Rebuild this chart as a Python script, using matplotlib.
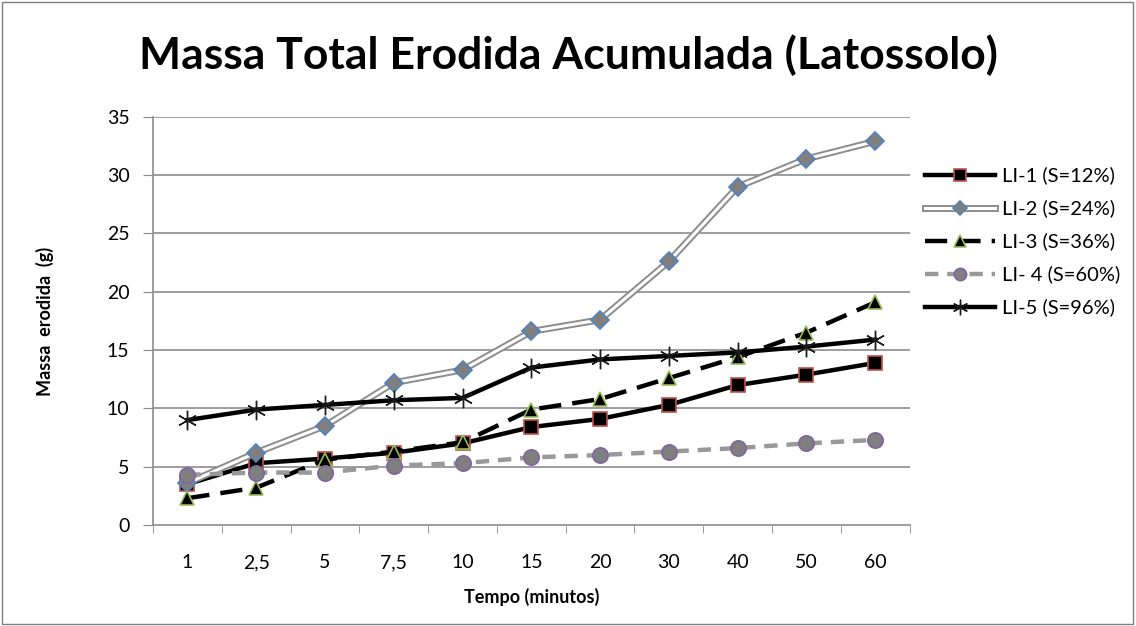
import numpy as np
import matplotlib.pyplot as plt
import matplotlib.patheffects as pe
from matplotlib.patches import Rectangle

plt.rcParams['font.family'] = ['Lato', 'DejaVu Sans']

tempo = ['1', '2,5', '5', '7,5', '10', '15', '20', '30', '40', '50', '60']
li1 = [3.5, 5.3, 5.7, 6.2, 7.0, 8.4, 9.1, 10.3, 12.0, 12.9, 13.9]
li2 = [3.6, 6.2, 8.5, 12.2, 13.3, 16.6, 17.6, 22.6, 29.0, 31.4, 32.9]
li3 = [2.3, 3.2, 5.6, 6.3, 7.1, 9.9, 10.8, 12.6, 14.4, 16.5, 19.1]
li4 = [4.3, 4.5, 4.5, 5.1, 5.3, 5.8, 6.0, 6.3, 6.6, 7.0, 7.3]
li5 = [9.0, 9.9, 10.3, 10.7, 10.9, 13.5, 14.2, 14.5, 14.8, 15.3, 15.9]

x = np.arange(len(tempo))

fig = plt.figure(figsize=(11.36, 6.26), dpi=100)
fig.patches.append(Rectangle((0.002, 0.003), 0.995, 0.994, transform=fig.transFigure,
                             fill=False, edgecolor='#7f7f7f', linewidth=1))
ax = fig.add_axes([0.1347, 0.1613, 0.666, 0.652])

for y in range(5, 36, 5):
    ax.axhline(y, color='#8c8c8c', linewidth=1.2, zorder=0)

h1, = ax.plot(x, li1, color='black', lw=3.2, marker='s', ms=10,
              mfc='black', mec='#c0504d', mew=1.2)

l2, = ax.plot(x, li2, color='white', lw=2.2,
              path_effects=[pe.withStroke(linewidth=5, foreground='#8c8c8c')])
m2, = ax.plot(x, li2, ls='none', marker='D', ms=9, mfc='#7f7f7f', mec='#4f81bd', mew=1.2)

h3, = ax.plot(x, li3, color='black', lw=3.2, ls=(0, (5, 2.5)), marker='^', ms=10,
              mfc='black', mec='#9bbb59', mew=1.2)
h4, = ax.plot(x, li4, color='#999999', lw=3.2, ls=(0, (3, 2)), marker='o', ms=11,
              mfc='#7f7f7f', mec='#8064a2', mew=1.2)
h5, = ax.plot(x, li5, color='black', lw=3.2, marker=(6, 2, 0), ms=14,
              mec='#1a1a1a', mew=1.0)

ax.set_xlim(-0.5, len(tempo) - 0.5)
ax.set_ylim(0, 35)
ax.set_yticks(range(0, 36, 5))
ax.set_xticks(x)
ax.set_xticklabels(tempo)
ax.set_xticks(np.arange(-0.5, len(tempo), 1), minor=True)
ax.tick_params(axis='x', which='major', length=0, pad=21, labelsize=14)
ax.tick_params(axis='x', which='minor', length=6, color='#8c8c8c')
ax.tick_params(axis='y', length=7, color='#8c8c8c', labelsize=14, pad=10)

for s in ['top', 'right']:
    ax.spines[s].set_visible(False)
for s in ['left', 'bottom']:
    ax.spines[s].set_color('#8c8c8c')
    ax.spines[s].set_linewidth(1.2)

ax.set_xlabel('Tempo (minutos)', fontsize=13, fontweight='bold', labelpad=12)
ax.set_ylabel('Massa  erodida  (g)', fontsize=13, fontweight='bold', labelpad=38)
fig.text(0.5, 0.912, 'Massa Total Erodida Acumulada (Latossolo)', ha='center', va='center',
         fontsize=32, fontweight='bold')

fig.legend([h1, (l2, m2), h3, h4, h5],
           ['LI-1 (S=12%)', 'LI-2 (S=24%)', 'LI-3 (S=36%)', 'LI- 4 (S=60%)', 'LI-5 (S=96%)'],
           loc='center left', bbox_to_anchor=(0.798, 0.614), frameon=False, fontsize=14.5,
           handlelength=3.5, handletextpad=0.35, labelspacing=0.75, markerscale=0.8)

fig.savefig('out.png', dpi=100)
